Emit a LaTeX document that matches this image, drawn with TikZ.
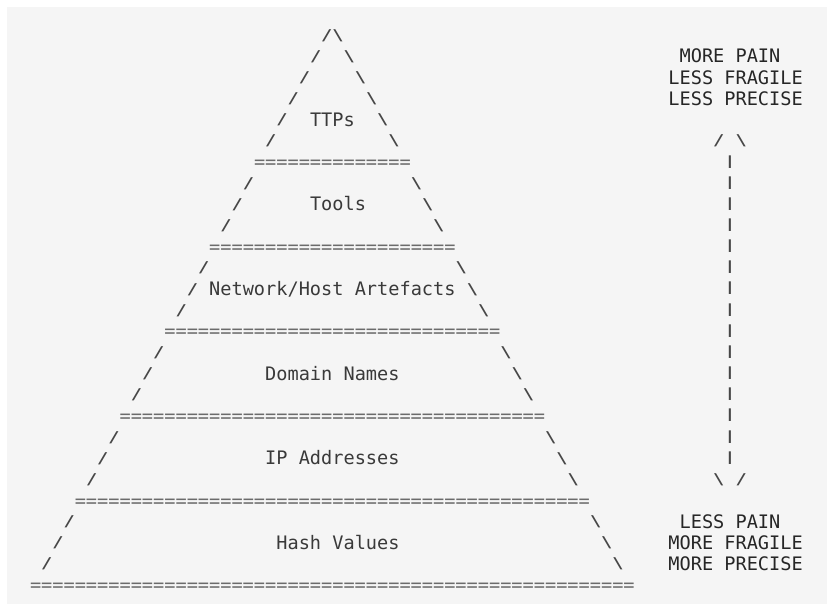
\documentclass[tikz,border=0pt]{standalone}
\usepackage{fontspec}
\setmonofont{DejaVu Sans Mono}
\usepackage{xcolor}
\usepackage{graphicx}
\usepackage{tikz}
\usetikzlibrary{positioning}
\definecolor{codebg}{HTML}{F5F5F5}
\definecolor{inkgray}{HTML}{3A3A3A}
\newcommand{\chw}{11.2}
\newcommand{\rowh}{21.15}
\newcommand{\xorg}{30}
\newcommand{\yorg}{41.8}
\newcommand{\eqrule}[1]{\foreach \k in {1,...,#1}{=}}
% squat glyphs, so the rows leave gaps as in the screenshot
\newcommand{\edgefwd}{\raisebox{1.6pt}{\scalebox{1}[0.8]{/}}}
\newcommand{\edgeback}{\raisebox{1.6pt}{\scalebox{1}[0.8]{\textbackslash}}}
\newcommand{\shaftbar}{\raisebox{3.6pt}{\scalebox{1}[0.68]{|}}}

\begin{document}
\begin{tikzpicture}[
  x=1pt, y=-1pt,
  ascii/.style = {inner sep=0pt, outer sep=0pt, anchor=base west,
                  font=\ttfamily\fontsize{18.6}{21.15}\selectfont,
                  text=inkgray},
  edge/.style  = {ascii, font=\ttfamily\bfseries\fontsize{18.6}{21.15}\selectfont,
                  text=black!72},
  sep/.style   = {ascii, text=black!58},
  side/.style  = {ascii, text=black!85}
]
\useasboundingbox (0,0) rectangle (827,604);
\fill[white]  (0,0) rectangle (827,604);
\fill[codebg] (7,7) rectangle (827,604);

%% ---- PYRAMID EDGES ----
\foreach \r in {0,1,2,3,4,5,7,8,9,11,12,13,15,16,17,19,20,21,23,24,25}{
  \node[edge] (left\r)  at ({\xorg+(26-\r)*\chw},{\yorg+\r*\rowh}) {\edgefwd};
  \node[edge] (right\r) at ({\xorg+(27+\r)*\chw},{\yorg+\r*\rowh}) {\edgeback};
}

%% ---- TIER SEPARATORS ----
\foreach \r in {6,10,14,18,22,26}{
  \pgfmathtruncatemacro{\n}{2*\r+2}
  \node[sep] (sep\r) at ({\xorg+(26-\r)*\chw},{\yorg+\r*\rowh}) {\eqrule{\n}};
}

%% ---- TIER LABELS ----
\node[ascii] (ttps)    at ({\xorg+25*\chw},{\yorg+4*\rowh})  {TTPs};
\node[ascii] (tools)   at ({\xorg+25*\chw},{\yorg+8*\rowh})  {Tools};
\node[ascii] (netHost) at ({\xorg+16*\chw},{\yorg+12*\rowh}) {Network/Host Artefacts};
\node[ascii] (domains) at ({\xorg+21*\chw},{\yorg+16*\rowh}) {Domain Names};
\node[ascii] (ipAddr)  at ({\xorg+21*\chw},{\yorg+20*\rowh}) {IP Addresses};
\node[ascii] (hashes)  at ({\xorg+22*\chw},{\yorg+24*\rowh}) {Hash Values};

%% ---- PAIN ARROW ----
\node[edge] (tipL) at ({\xorg+61*\chw},{\yorg+5*\rowh}) {\edgefwd};
\node[edge] (tipR) at ({\xorg+63*\chw},{\yorg+5*\rowh}) {\edgeback};
\foreach \r in {6,...,20}
  \node[edge] (shaft\r) at ({\xorg+62*\chw},{\yorg+\r*\rowh}) {\shaftbar};
\node[edge] (footL) at ({\xorg+61*\chw},{\yorg+21*\rowh}) {\edgeback};
\node[edge] (footR) at ({\xorg+63*\chw},{\yorg+21*\rowh}) {\edgefwd};

%% ---- SIDE LABELS ----
\node[side] (morePain)    at ({\xorg+58*\chw},{\yorg+1*\rowh})  {MORE PAIN};
\node[side] (lessFragile) at ({\xorg+57*\chw},{\yorg+2*\rowh})  {LESS FRAGILE};
\node[side] (lessPrecise) at ({\xorg+57*\chw},{\yorg+3*\rowh})  {LESS PRECISE};
\node[side] (lessPain)    at ({\xorg+58*\chw},{\yorg+23*\rowh}) {LESS PAIN};
\node[side] (moreFragile) at ({\xorg+57*\chw},{\yorg+24*\rowh}) {MORE FRAGILE};
\node[side] (morePrecise) at ({\xorg+57*\chw},{\yorg+25*\rowh}) {MORE PRECISE};

\end{tikzpicture}
\end{document}
